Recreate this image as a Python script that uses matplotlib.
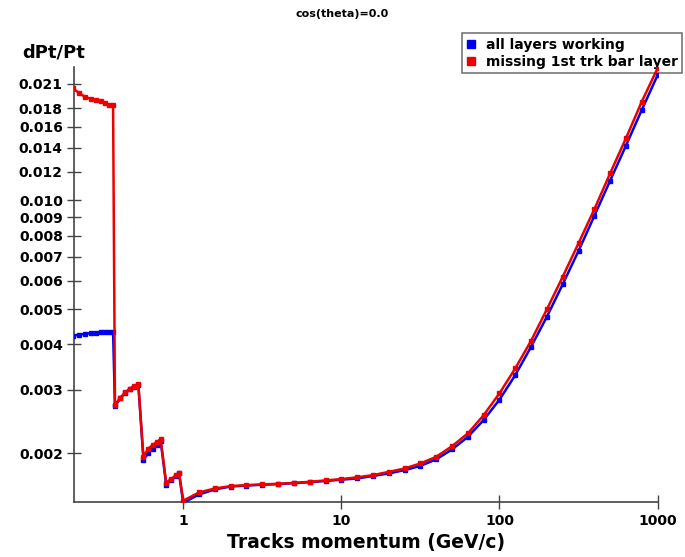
import numpy as np
import matplotlib
matplotlib.use("Agg")
import matplotlib.pyplot as plt
from matplotlib.ticker import FixedLocator, FormatStrFormatter, NullLocator

# momentum points (GeV/c)
p_low = [0.20, 0.22, 0.24, 0.26, 0.28, 0.30, 0.32, 0.34, 0.36,
         0.37, 0.40, 0.43, 0.46, 0.49, 0.52,
         0.56, 0.60, 0.64, 0.68, 0.72,
         0.78, 0.84, 0.90, 0.94]
p_high = [1.0, 1.259, 1.585, 1.995, 2.512, 3.162, 3.981, 5.012, 6.310, 7.943,
          10.0, 12.59, 15.85, 19.95, 25.12, 31.62, 39.81, 50.12, 63.10, 79.43,
          100.0, 125.9, 158.5, 199.5, 251.2, 316.2, 398.1, 501.2, 631.0, 794.3,
          1000.0]

# dPt/Pt, all layers working
all_low = [0.00423, 0.00426, 0.00428, 0.00430, 0.00431, 0.00432, 0.00433, 0.00434, 0.00434,
           0.00270, 0.00284, 0.00294, 0.00301, 0.00306, 0.00310,
           0.00192, 0.00200, 0.00206, 0.00211, 0.00216,
           0.00164, 0.00169, 0.00173, 0.00176]
all_high = [0.00146, 0.00154, 0.00159, 0.001620, 0.001630, 0.001638, 0.001645, 0.001655,
            0.001665, 0.001678, 0.001692, 0.001705, 0.001732, 0.001761, 0.001798, 0.001847,
            0.001926, 0.002051, 0.002222, 0.002474, 0.002815, 0.003292, 0.003943, 0.004773,
            0.005867, 0.007254, 0.009063, 0.01135, 0.01418, 0.01779, 0.0222]

# dPt/Pt, missing 1st trk bar layer
miss_low = [0.0204, 0.0198, 0.0193, 0.0191, 0.0189, 0.0188, 0.0186, 0.0184, 0.0183,
            0.00272, 0.00285, 0.00295, 0.00302, 0.00307, 0.00311,
            0.00196, 0.00206, 0.00211, 0.00215, 0.00219,
            0.00166, 0.00170, 0.00174, 0.00177]
miss_high = [0.00148, 0.00156, 0.00160, 0.001624, 0.001634, 0.001642, 0.001648, 0.001658,
             0.001669, 0.001684, 0.001698, 0.001718, 0.001742, 0.001778, 0.001817, 0.001876,
             0.001957, 0.002094, 0.002271, 0.002551, 0.002931, 0.003436, 0.004096, 0.005003,
             0.006155, 0.007616, 0.009457, 0.01189, 0.01486, 0.01876, 0.0232]

y_ticks = [0.002, 0.003, 0.004, 0.005, 0.006, 0.007, 0.008, 0.009, 0.010,
           0.012, 0.014, 0.016, 0.018, 0.021]
x_ticks = [1, 10, 100, 1000]

p = p_low + p_high
fig = plt.figure(figsize=(6.85, 5.57), dpi=100)
ax = fig.add_axes([0.108, 0.098, 0.852, 0.782])

ax.plot(p, all_low + all_high, color="#0000ee", lw=1.8, marker="s", ms=2.3,
        label="all layers working", zorder=3)
ax.plot(p, miss_low + miss_high, color="#ee0000", lw=1.8, marker="s", ms=2.3,
        label="missing 1st trk bar layer", zorder=4)

ax.set_xscale("log")
ax.set_yscale("log")
ax.set_xlim(0.2037, 1000)
ax.set_ylim(0.001464, 0.0234)

ax.xaxis.set_major_locator(FixedLocator(x_ticks))
ax.xaxis.set_major_formatter(FormatStrFormatter("%g"))
ax.xaxis.set_minor_locator(NullLocator())
ax.yaxis.set_major_locator(FixedLocator(y_ticks))
ax.yaxis.set_major_formatter(FormatStrFormatter("%.3f"))
ax.yaxis.set_minor_locator(NullLocator())

for s in ["top", "right"]:
    ax.spines[s].set_visible(False)
for s in ["left", "bottom"]:
    ax.spines[s].set_color("#444444")
    ax.spines[s].set_linewidth(1.2)
ax.tick_params(direction="inout", length=10, width=1, color="#444444",
               labelsize=10, pad=3)
for lab in ax.get_xticklabels() + ax.get_yticklabels():
    lab.set_fontweight("bold")

ax.set_xlabel("Tracks momentum (GeV/c)", fontsize=13.5, fontweight="bold", labelpad=4)
fig.text(0.032, 0.905, "dPt/Pt", fontsize=13, fontweight="bold", ha="left", va="center")
fig.text(0.50, 0.974, "cos(theta)=0.0", fontsize=8, fontweight="bold", ha="center", va="center")

leg = ax.legend(loc="upper right", bbox_to_anchor=(0.9956, 0.940),
                bbox_transform=fig.transFigure, borderaxespad=0,
                frameon=True, fancybox=False,
                edgecolor="#555555", handlelength=0.6, handletextpad=0.8,
                borderpad=0.3, labelspacing=0.25, markerscale=2.2,
                prop={"weight": "bold", "size": 10})
for h in leg.legend_handles:
    h.set_linestyle("none")
leg.get_frame().set_linewidth(1.2)
leg.set_zorder(2)

fig.savefig("out.png", dpi=100)
